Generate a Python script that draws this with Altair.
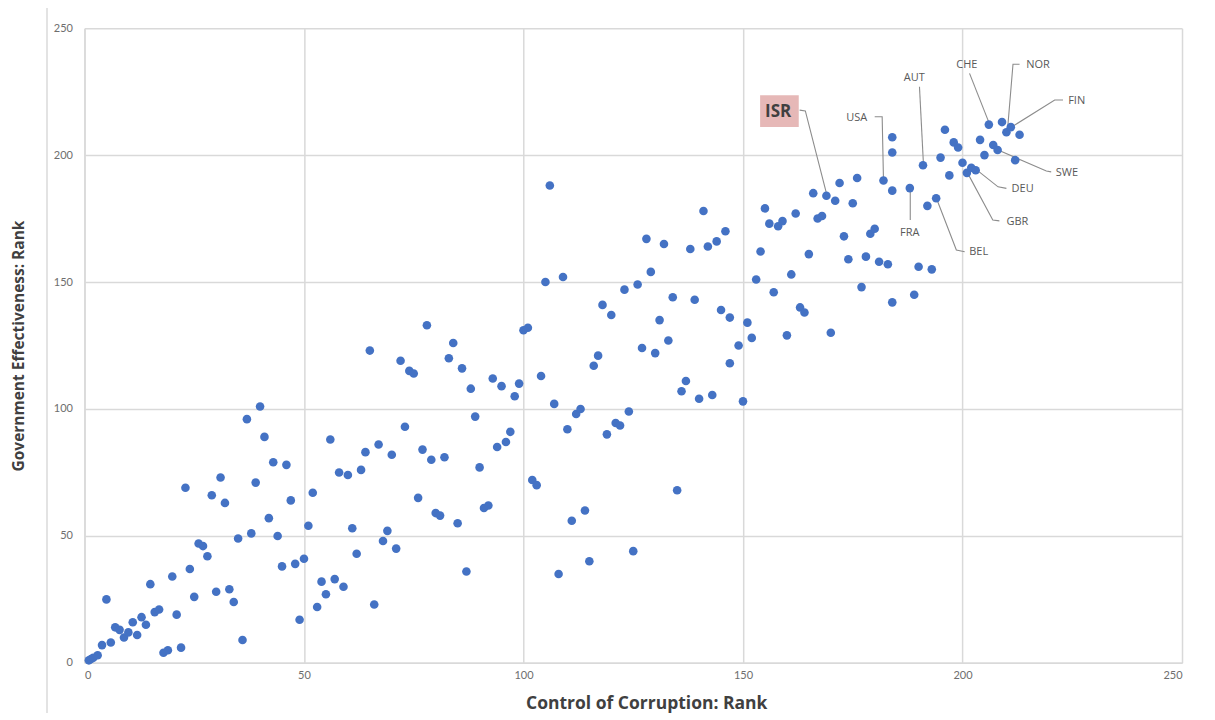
import altair as alt
import pandas as pd

# Control of Corruption rank (x) and Government Effectiveness rank (y)
corruption_rank = [
    1, 1.5, 2, 3, 4, 6, 5, 7, 8, 9,
    10, 11, 12, 13, 14, 15, 16, 17, 18, 19,
    20, 21, 22, 23, 24, 25, 26, 27, 28, 29,
    30, 31, 32, 33, 34, 35, 36, 37, 38, 39,
    40, 41, 42, 43, 44, 45, 46, 47, 48, 49,
    50, 51, 52, 53, 54, 55, 56, 57, 58, 59,
    60, 61, 62, 63, 64, 65, 66, 67, 68, 69,
    70, 71, 72, 73, 74, 75, 76, 77, 78, 79,
    80, 81, 82, 83, 84, 85, 86, 87, 88, 89,
    90, 91, 92, 93, 94, 95, 96, 97, 98, 99,
    100, 101, 102, 103, 104, 105, 106, 107, 108, 109,
    110, 111, 112, 113, 114, 115, 116, 117, 118, 119,
    120, 121, 122, 123, 124, 125, 126, 127, 128, 129,
    130, 131, 132, 133, 134, 135, 136, 137, 138, 139,
    140, 141, 142, 143, 144, 145, 146, 147, 147, 149,
    150, 151, 152, 153, 154, 155, 156, 157, 158, 159,
    160, 161, 162, 163, 164, 165, 166, 167, 168, 169,
    170, 171, 172, 173, 174, 175, 176, 177, 178, 179,
    180, 181, 182, 183, 184, 184, 184, 184, 188, 189,
    190, 191, 192, 193, 194, 195, 196, 197, 198, 199,
    200, 201, 202, 203, 204, 205, 206, 207, 208, 209,
    210, 211, 212, 213,
]
effectiveness_rank = [
    1, 1.5, 2, 3, 7, 8, 25, 14, 13, 10,
    12, 16, 11, 18, 15, 31, 20, 21, 4, 5,
    34, 19, 6, 69, 37, 26, 47, 46, 42, 66,
    28, 73, 63, 29, 24, 49, 9, 96, 51, 71,
    101, 89, 57, 79, 50, 38, 78, 64, 39, 17,
    41, 54, 67, 22, 32, 27, 88, 33, 75, 30,
    74, 53, 43, 76, 83, 123, 23, 86, 48, 52,
    82, 45, 119, 93, 115, 114, 65, 84, 133, 80,
    59, 58, 81, 120, 126, 55, 116, 36, 108, 97,
    77, 61, 62, 112, 85, 109, 87, 91, 105, 110,
    131, 132, 72, 70, 113, 150, 188, 102, 35, 152,
    92, 56, 98, 100, 60, 40, 117, 121, 141, 90,
    137, 94.5, 93.5, 147, 99, 44, 149, 124, 167, 154,
    122, 135, 165, 127, 144, 68, 107, 111, 163, 143,
    104, 178, 164, 105.5, 166, 139, 170, 136, 118, 125,
    103, 134, 128, 151, 162, 179, 173, 146, 172, 174,
    129, 153, 177, 140, 138, 161, 185, 175, 176, 184,
    130, 182, 189, 168, 159, 181, 191, 148, 160, 169,
    171, 158, 190, 157, 186, 201, 207, 142, 187, 145,
    156, 196, 180, 155, 183, 199, 210, 192, 205, 203,
    197, 193, 195, 194, 206, 200, 212, 204, 202, 213,
    209, 211, 198, 208,
]

# Country annotations (label anchor in data units)
label_country = ["USA", "AUT", "CHE", "NOR", "FIN", "SWE", "DEU", "GBR", "FRA", "BEL"]
label_x = [175.9, 189.0, 201.0, 217.2, 226.0, 223.8, 213.7, 212.5, 188.0, 203.7]
label_y = [214.8, 230.2, 235.4, 235.4, 221.3, 193.0, 186.6, 173.7, 169.2, 161.7]

# Highlighted ISR label
isr_label = ["ISR"]
isr_x = [158.0]
isr_y = [217.0]
isr_box_x = [153.9]
isr_box_x2 = [162.7]
isr_box_y = [211.1]
isr_box_y2 = [223.6]

# Leader lines (polyline vertices per country)
leader_country = ["ISR", "ISR", "ISR", "USA", "USA", "USA", "AUT", "AUT",
                  "CHE", "CHE", "NOR", "NOR", "NOR", "FIN", "FIN", "FIN",
                  "SWE", "SWE", "SWE", "DEU", "DEU", "DEU", "GBR", "GBR", "GBR",
                  "FRA", "FRA", "BEL", "BEL", "BEL"]
leader_order = [0, 1, 2, 0, 1, 2, 0, 1,
                0, 1, 0, 1, 2, 0, 1, 2,
                0, 1, 2, 0, 1, 2, 0, 1, 2,
                0, 1, 0, 1, 2]
leader_x = [169.1, 164.2, 162.9, 182.0, 181.7, 180.0, 191.1, 190.2,
            206.1, 201.6, 210.3, 211.5, 213.0, 211.5, 221.0, 222.9,
            208.1, 219.1, 220.2, 203.3, 208.1, 210.0, 201.2, 206.9, 208.4,
            188.1, 188.1, 194.1, 198.6, 200.5]
leader_y = [184.3, 217.4, 217.7, 190.2, 215.1, 215.1, 196.5, 226.9,
            212.5, 232.2, 210.9, 235.8, 235.8, 211.4, 221.7, 221.7,
            202.0, 193.7, 193.4, 194.1, 187.5, 186.9, 192.8, 174.4, 174.1,
            187.0, 174.4, 182.8, 162.6, 161.9]

ticks = [0, 50, 100, 150, 200, 250]

points = pd.DataFrame({"cc": corruption_rank, "ge": effectiveness_rank})
labels = pd.DataFrame({"country": label_country, "x": label_x, "y": label_y})
leaders = pd.DataFrame({"country": leader_country, "o": leader_order,
                        "x": leader_x, "y": leader_y})
isr = pd.DataFrame({"t": isr_label, "x": isr_x, "y": isr_y,
                    "bx": isr_box_x, "bx2": isr_box_x2,
                    "by": isr_box_y, "by2": isr_box_y2})

W, H = 1098, 635
xs = alt.Scale(domain=[0, 250], nice=False, zero=True)
ys = alt.Scale(domain=[0, 250], nice=False, zero=True)

label_font = "Liberation Sans Narrow, Lato, sans-serif"
title_font = "Open Sans, Lato, sans-serif"

base = alt.Chart(points).mark_circle(size=74, color="#4472C4", opacity=1).encode(
    x=alt.X("cc:Q", scale=xs,
            axis=alt.Axis(values=ticks, title="Control of Corruption: Rank",
                          titleX=562, titleY=41, titleBaseline="middle",
                          titleAnchor="start", titleAlign="center",
                          titleFontSize=17.5, labelPadding=7)),
    y=alt.Y("ge:Q", scale=ys,
            axis=alt.Axis(values=ticks, title="Government Effectiveness: Rank",
                          titleX=-66, titleY=H / 2, titleAngle=270,
                          titleBaseline="middle", titleAlign="center",
                          titleFontSize=15.5, labelPadding=12)),
)

lines = alt.Chart(leaders).mark_line(color="#8c8c8c", strokeWidth=1.1).encode(
    x=alt.X("x:Q", scale=xs), y=alt.Y("y:Q", scale=ys),
    detail="country:N", order="o:Q",
)

texts = alt.Chart(labels).mark_text(
    font="Open Sans, Lato, sans-serif", fontSize=11, color="#595959",
    align="center", baseline="middle",
).encode(x=alt.X("x:Q", scale=xs), y=alt.Y("y:Q", scale=ys), text="country:N")

isr_box = alt.Chart(isr).mark_rect(color="#E6B8B7").encode(
    x=alt.X("bx:Q", scale=xs), x2="bx2:Q",
    y=alt.Y("by:Q", scale=ys), y2="by2:Q",
)
isr_text = alt.Chart(isr).mark_text(
    font="Open Sans, Lato, sans-serif", fontSize=17, fontWeight="bold",
    color="#404040", align="center", baseline="middle",
).encode(x=alt.X("x:Q", scale=xs), y=alt.Y("y:Q", scale=ys), text="t:N")

border = alt.Chart(pd.DataFrame({"a": [0]})).mark_rule(
    color="#e3e3e3", strokeWidth=2
).encode(x=alt.value(-37.5), y=alt.value(-28), y2=alt.value(692))

chart = alt.layer(border, lines, base, isr_box, isr_text, texts).properties(
    width=W, height=H,
    autosize=alt.AutoSizeParams(type="none"),
    padding={"left": 76.5, "top": 20, "right": 25, "bottom": 50},
).configure_view(stroke=None).configure_axis(
    domainColor="#d9d9d9", domainWidth=1.5,
    gridColor="#d9d9d9", gridWidth=1.5,
    ticks=False,
    labelFont=label_font, labelFontSize=11, labelColor="#6e6e6e",
    titleFont=title_font, titleFontWeight="bold",
    titleColor="#404040",
)

chart.save("out.html", embed_options={"renderer": "svg", "actions": False})
